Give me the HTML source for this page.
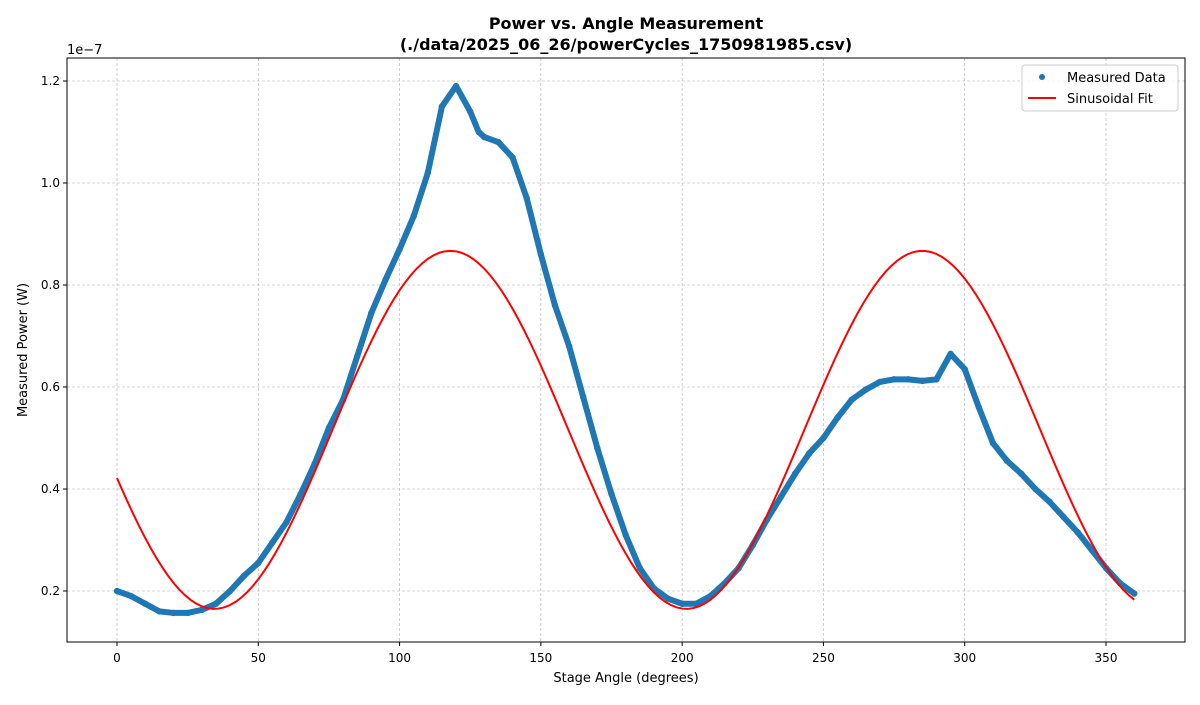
<!DOCTYPE html>
<html><head><meta charset="utf-8"><style>
body{margin:0;background:#fff;font-family:"Liberation Sans","DejaVu Sans",sans-serif;}
svg text{font-family:"DejaVu Sans","Liberation Sans",sans-serif;}
</style></head><body>
<svg id="chart" width="1200" height="700">
<text x="626" y="29" text-anchor="middle" font-size="16" font-weight="bold">Power vs. Angle Measurement</text>
<text x="626" y="50" text-anchor="middle" font-size="16" font-weight="bold">(./data/2025_06_26/powerCycles_1750981985.csv)</text>
<g id="grid"></g>
<g id="series"></g>
<rect x="67" y="58" width="1118" height="584" fill="none" stroke="#000" stroke-width="1"/>
<g id="axes"></g>
<text x="67" y="54" font-size="13">1e−7</text>
<text x="626" y="682" text-anchor="middle" font-size="13">Stage Angle (degrees)</text>
<text transform="translate(27,350) rotate(-90)" text-anchor="middle" font-size="13">Measured Power (W)</text>
<g>
<rect x="1022" y="65" width="156" height="46" rx="3" fill="#fff" fill-opacity="0.8" stroke="#ccc"/>
<g>
<circle cx="1042" cy="77" r="3" fill="#1f77b4"/>
<text x="1067" y="82" font-size="13">Measured Data</text></g>
<g>
<line x1="1028" y1="98" x2="1056" y2="98" stroke="red" stroke-width="2"/>
<text x="1067" y="103" font-size="13">Sinusoidal Fit</text></g>
</g>
</svg>
<script>
const angles=[0,5,10,15,20,25,30,35,40,45,50,55,60,65,70,75,80,85,90,95,100,105,110,115,120,125,128,130,135,140,145,150,155,160,165,170,175,180,185,190,195,200,205,210,215,220,225,230,235,240,245,250,255,260,265,270,275,280,285,290,295,300,305,310,315,320,325,330,335,340,345,350,355,360];
const power=[0.20,0.19,0.175,0.16,0.157,0.157,0.163,0.175,0.20,0.23,0.255,0.295,0.335,0.39,0.45,0.52,0.575,0.66,0.745,0.81,0.87,0.935,1.02,1.15,1.19,1.14,1.10,1.09,1.08,1.05,0.97,0.86,0.76,0.68,0.58,0.48,0.39,0.31,0.245,0.205,0.185,0.175,0.175,0.19,0.215,0.245,0.29,0.34,0.385,0.43,0.47,0.50,0.54,0.575,0.595,0.61,0.615,0.615,0.612,0.615,0.665,0.635,0.56,0.49,0.455,0.43,0.40,0.375,0.345,0.315,0.28,0.245,0.215,0.195];
const fitParams=[0.351,167,118,0.516]; // amplitude, period, peak angle, offset
const xTicks=[0,50,100,150,200,250,300,350];
const yTicks=[0.2,0.4,0.6,0.8,1.0,1.2];
const NS="http://www.w3.org/2000/svg";
const X=v=>117+v*(989/350), Y=v=>591-(v-0.2)*510;
function mk(t,a,p){const e=document.createElementNS(NS,t);for(const k in a)e.setAttribute(k,a[k]);p.appendChild(e);return e;}
const grid=document.getElementById('grid'),axes=document.getElementById('axes'),ser=document.getElementById('series');
xTicks.forEach(t=>{const x=X(t);
 const g=mk('line',{x1:x,y1:58,x2:x,y2:642,stroke:'#b0b0b0','stroke-width':0.6,'stroke-dasharray':'3,2'},grid);
 
 mk('line',{x1:x,y1:642,x2:x,y2:646,stroke:'#000'},axes);
 const l=mk('text',{x:x,y:662,'text-anchor':'middle','font-size':12},axes);l.textContent=t;
 });
yTicks.forEach(t=>{const y=Y(t);
 const g=mk('line',{x1:67,y1:y,x2:1185,y2:y,stroke:'#b0b0b0','stroke-width':0.6,'stroke-dasharray':'3,2'},grid);
 
 mk('line',{x1:63,y1:y,x2:67,y2:y,stroke:'#000'},axes);
 const l=mk('text',{x:60,y:y+4,'text-anchor':'end','font-size':12},axes);l.textContent=t.toFixed(1);
 });
const pts=angles.map((a,i)=>X(a)+','+Y(power[i])).join(' ');
const pl=mk('polyline',{points:pts,fill:'none',stroke:'#1f77b4','stroke-width':6,'stroke-linejoin':'round','stroke-linecap':'round'},ser);

angles.forEach((a,i)=>{const c=mk('circle',{cx:X(a),cy:Y(power[i]),r:3.2,fill:'#1f77b4'},ser);
 });
const [A,P,pk,C]=fitParams;let fp=[];
for(let a=0;a<=360;a+=2){fp.push(X(a)+','+Y(C+A*Math.cos(2*Math.PI*(a-pk)/P)));}
const fl=mk('polyline',{points:fp.join(' '),fill:'none',stroke:'red','stroke-width':2},ser);

</script>
</body></html>
